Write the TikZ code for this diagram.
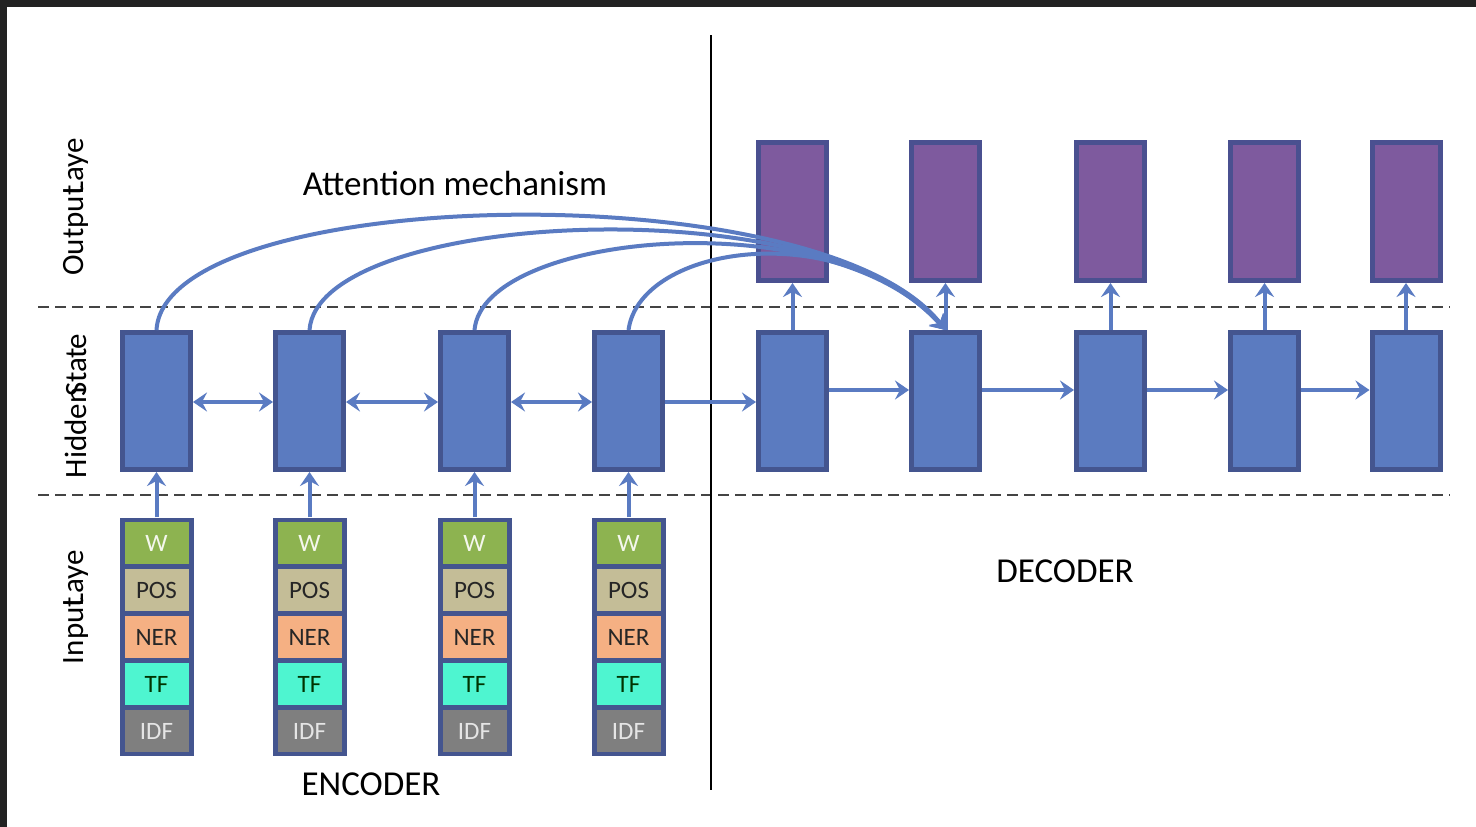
\documentclass[tikz,border=0pt]{standalone}
\usepackage{fontspec}
\setmainfont{Carlito}
\usetikzlibrary{arrows.meta}
\definecolor{hid}{HTML}{5B7BC0}
\definecolor{hidb}{HTML}{44558F}
\definecolor{outc}{HTML}{7E5A9E}
\definecolor{outb}{HTML}{4A5090}
\definecolor{arr}{HTML}{5A7BC2}
\definecolor{cw}{HTML}{8DB350}
\definecolor{cpos}{HTML}{C4BD97}
\definecolor{cner}{HTML}{F5B083}
\definecolor{ctf}{HTML}{4EF5D0}
\definecolor{cidf}{HTML}{7F7F7F}
\definecolor{frame}{HTML}{222222}
\definecolor{dashc}{HTML}{444444}
\begin{document}
\begin{tikzpicture}[x=1pt,y=-1pt,
  hbox/.style={draw=hidb,fill=hid,line width=5pt,minimum width=68pt,minimum height=137pt,inner sep=0pt},
  obox/.style={draw=outb,fill=outc,line width=5pt,minimum width=68pt,minimum height=138pt,inner sep=0pt},
  stackbox/.style={fill=hidb,minimum width=74pt,minimum height=238pt,inner sep=0pt},
  cell/.style={minimum width=64pt,minimum height=42pt,inner sep=0pt,font=\fontsize{25}{25}\selectfont},
  ar/.style={draw=arr,line width=4pt,-{Stealth[length=14pt,width=19pt,inset=5pt]}},
  dar/.style={draw=arr,line width=4pt,{Stealth[length=14pt,width=19pt,inset=5pt]}-{Stealth[length=14pt,width=19pt,inset=5pt]}},
  att/.style={draw=arr,line width=4pt,-{Stealth[length=14pt,width=19pt,inset=5pt]}},
  dline/.style={draw=dashc,line width=2pt,dash pattern=on 11pt off 6pt},
  big/.style={font=\fontsize{35}{35}\selectfont,text=black},
  side/.style={font=\fontsize{31}{31}\selectfont,text=black,rotate=90}
]
\useasboundingbox (0,0) rectangle (1476,827);
\fill[white] (0,0) rectangle (1476,827);
\fill[frame] (0,0) rectangle (1476,7);
\fill[frame] (0,0) rectangle (7,827);

% dashed separators and vertical divider
\draw[dline] (38,307) -- (1450,307);
\draw[dline] (38,495) -- (1450,495);
\draw[black,line width=2.8pt] (711,35) -- (711,790);

% side labels
\node[side] (lout) at (76,207) {Output\kern-0.3em Laye};
\node[side] (lhid) at (76,406) {Hidden\kern-0.3em Stat\kern-0.05em e};
\node[side] (lin) at (76,607) {Input\kern-0.3em Laye};

% encoder hidden
\foreach \i/\x in {1/156.5,2/309.5,3/474.5,4/628.5}{
  \node[hbox] (e\i) at (\x,401) {};
  \node[stackbox] (s\i) at (\x,636.5) {};
  \node[cell,fill=cw,text=white!90!cw] (w\i) at (\x,543) {W};
  \node[cell,fill=cpos,text=black!85] (pos\i) at (\x,590) {POS};
  \node[cell,fill=cner,text=black!85] (ner\i) at (\x,637) {NER};
  \node[cell,fill=ctf,text=green!20!black] (tf\i) at (\x,684) {TF};
  \node[cell,fill=cidf,text=white!90!black] (idf\i) at (\x,731) {IDF};
  \draw[ar] (s\i.north) -- (e\i.south);
}

% decoder
\foreach \i/\x in {1/792.5,2/945.5,3/1110.5,4/1264.5,5/1406}{
  \node[hbox] (d\i) at (\x,401) {};
  \node[obox] (o\i) at (\x,211.5) {};
  \draw[ar] (d\i.north) -- (o\i.south);
}

% encoder bidirectional
\draw[dar] (e1.east |- 0,402) -- (e2.west |- 0,402);
\draw[dar] (e2.east |- 0,402) -- (e3.west |- 0,402);
\draw[dar] (e3.east |- 0,402) -- (e4.west |- 0,402);
\draw[ar] (e4.east |- 0,402) -- (d1.west |- 0,402);

% decoder chain
\draw[ar] (d1.east |- 0,390) -- (d2.west |- 0,390);
\draw[ar] (d2.east |- 0,390) -- (d3.west |- 0,390);
\draw[ar] (d3.east |- 0,390) -- (d4.west |- 0,390);
\draw[ar] (d4.east |- 0,390) -- (d5.west |- 0,390);

% attention
\draw[att] (e1.north) .. controls (165,185) and (820,170) .. (d2.north);
\draw[att] (e2.north) .. controls (318,210) and (825,185) .. (d2.north);
\draw[att] (e3.north) .. controls (483,232) and (830,200) .. (d2.north);
\draw[att] (e4.north) .. controls (640,245) and (840,215) .. (d2.north);

% texts
\node[big] (attn) at (455,183) {Attention mechanism};
\node[big] (enc) at (371,784) {ENCODER};
\node[big] (dec) at (1065,571) {DECODER};
\end{tikzpicture}
\end{document}
